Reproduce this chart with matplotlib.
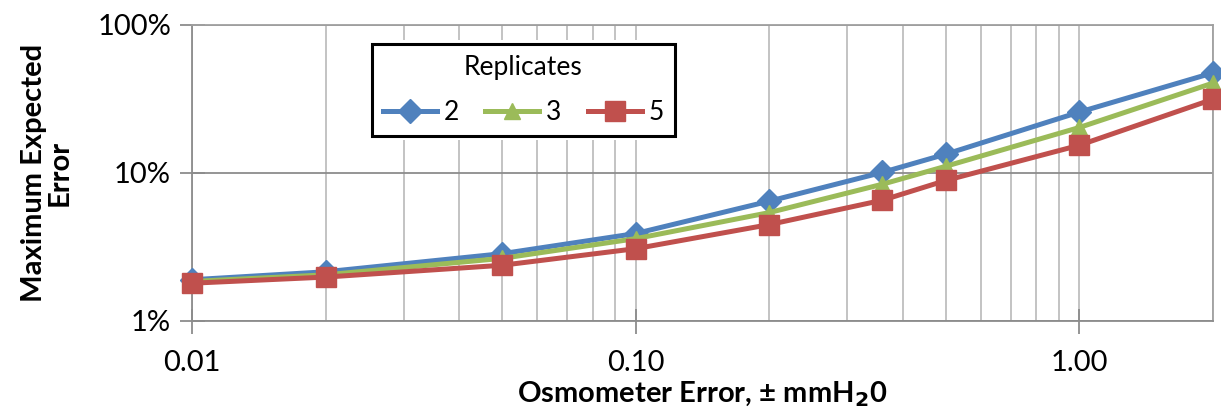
import matplotlib
matplotlib.use("Agg")
import matplotlib.pyplot as plt
from matplotlib.patches import Rectangle
from matplotlib.ticker import FixedLocator, NullFormatter, FuncFormatter, LogLocator

plt.rcParams['font.family'] = ['Lato', 'DejaVu Sans']

x_vals = [0.01, 0.02, 0.05, 0.10, 0.20, 0.36, 0.50, 1.00, 2.00]
rep2 = [1.90, 2.15, 2.85, 3.90, 6.45, 10.1, 13.4, 25.8, 47.5]
rep3 = [1.85, 2.05, 2.65, 3.60, 5.40, 8.4, 11.1, 20.3, 40.5]
rep5 = [1.80, 1.98, 2.38, 3.08, 4.48, 6.55, 8.9, 15.4, 31.5]
series_names = ['2', '3', '5']
colors = ['#4F81BD', '#9BBB59', '#C0504D']
markers = ['D', '^', 's']
msizes = [12, 12, 14]

fig = plt.figure(figsize=(12.21, 4.11), dpi=100)
ax = fig.add_axes([0.1572, 0.2190, 0.8362, 0.7202])

for vals, name, c, m, ms in zip([rep2, rep3, rep5], series_names, colors, markers, msizes):
    ax.plot(x_vals, [v / 100 for v in vals], color=c, lw=3.6, marker=m, ms=ms,
            mec=c, mfc=c, label=name, clip_on=False, zorder=3)

ax.set_xscale('log')
ax.set_yscale('log')
ax.set_xlim(0.01, 2.0)
ax.set_ylim(0.01, 1.0)

ax.xaxis.set_major_locator(FixedLocator([0.01, 0.1, 1.0]))
ax.xaxis.set_major_formatter(FuncFormatter(lambda v, p: f"{v:.2f}"))
ax.xaxis.set_minor_locator(LogLocator(base=10, subs=range(2, 10)))
ax.xaxis.set_minor_formatter(NullFormatter())
ax.yaxis.set_major_locator(FixedLocator([0.01, 0.1, 1.0]))
ax.yaxis.set_major_formatter(FuncFormatter(lambda v, p: f"{v*100:.0f}%"))
ax.yaxis.set_minor_locator(FixedLocator([]))

ax.grid(True, which='both', axis='x', color='#BEBEBE', lw=1.3)
ax.grid(True, which='major', axis='y', color='#8C8C8C', lw=1.3)
ax.set_axisbelow(True)

for s in ['left', 'bottom']:
    ax.spines[s].set_color('#8C8C8C')
    ax.spines[s].set_linewidth(1.3)
for s in ['top', 'right']:
    ax.spines[s].set_color('#A0A0A0')
    ax.spines[s].set_linewidth(1.3)

ax.tick_params(axis='both', which='major', direction='inout', length=18, width=1.3,
               color='#8C8C8C', labelsize=21, pad=6)
ax.tick_params(axis='x', which='minor', length=0)
ax.tick_params(axis='x', which='major', pad=12)

ax.set_ylabel('Maximum Expected\nError', fontsize=21, fontweight='bold', labelpad=18,
              linespacing=0.95)
ax.set_xlabel(r'Osmometer Error, ± mmH$_\mathbf{2}$0', fontsize=21, fontweight='bold',
              labelpad=2)

leg = ax.legend(title='Replicates', ncol=3, loc='upper left',
                bbox_to_anchor=(0.176, 0.935), fontsize=19, title_fontsize=19,
                frameon=True, fancybox=False, edgecolor='black', framealpha=1,
                handlelength=2.05, columnspacing=1.0, handletextpad=0.25,
                borderpad=0.42, borderaxespad=0)
leg.get_frame().set_linewidth(2.2)
leg._legend_box.sep = 14
leg.set_zorder(5)

fig.canvas.draw()
bb = leg.get_window_extent()
pad = 4
inv = ax.transAxes.inverted()
(x0, y0) = inv.transform((bb.x0 - pad, bb.y0 - pad))
(x1, y1) = inv.transform((bb.x1 + pad, bb.y1 + pad))
ax.add_patch(Rectangle((x0, y0), x1 - x0, y1 - y0, transform=ax.transAxes,
                       facecolor='white', edgecolor='none', zorder=2))

fig.savefig('out.png', dpi=100)
